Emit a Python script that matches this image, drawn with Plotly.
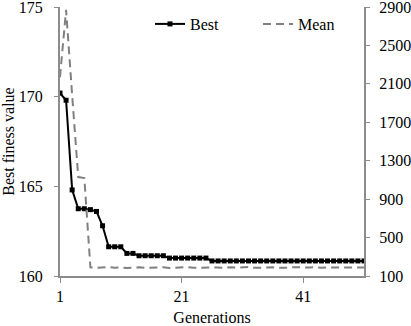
import plotly.graph_objects as go

generations = list(range(1, 52))
best = [170.2, 169.8, 164.8, 163.75, 163.75, 163.7, 163.6, 162.8, 161.63, 161.63,
        161.63, 161.26, 161.26, 161.13, 161.13, 161.13, 161.13, 161.13,
        161.0, 161.0, 161.0, 161.0, 161.0, 161.0, 161.0] + [160.84] * 26
mean = [2170, 2870, 1980, 1130, 1120,
        190, 185, 188, 192, 186, 190, 183, 187, 190, 185,
        188, 186, 191, 184, 189, 187, 192, 185, 188, 190,
        186, 189, 184, 191, 187, 188, 193, 185, 189, 186,
        190, 187, 185, 191, 188, 186, 189, 192, 185, 188,
        187, 190, 186, 189, 185, 188]
x_ticks = [1, 21, 41]

FONT = "Liberation Serif"
AXC = "#8c8c8c"
tf = dict(family=FONT, size=16, color="black")

fig = go.Figure()
fig.add_trace(go.Scatter(x=generations, y=best, name="Best", mode="lines+markers",
                         line=dict(color="black", width=2),
                         marker=dict(symbol="square", size=5, color="black")))
fig.add_trace(go.Scatter(x=generations, y=mean, name="Mean", mode="lines", yaxis="y2",
                         line=dict(color="#808080", width=2, dash="8px,5px")))

fig.update_layout(
    width=411, height=326,
    margin=dict(l=60, r=47, t=7, b=50, autoexpand=False),
    paper_bgcolor="white", plot_bgcolor="white",
    font=tf,
    showlegend=True,
    legend=dict(orientation="h", x=0.296, y=1.0, xanchor="left", yanchor="top",
                bgcolor="rgba(0,0,0,0)", entrywidth=63, entrywidthmode="pixels",
                font=tf, tracegroupgap=0),
    xaxis=dict(range=[1, 51], tickvals=x_ticks, ticktext=[str(v) for v in x_ticks],
               showgrid=False, zeroline=False, showline=True, linecolor=AXC, linewidth=2,
               ticks="outside", ticklen=5, tickcolor=AXC, tickfont=tf, automargin=False,
               title=dict(text="Generations", standoff=10, font=tf)),
    yaxis=dict(range=[160, 175], tick0=160, dtick=5, showgrid=False, zeroline=False,
               showline=True, linecolor=AXC, linewidth=2, ticks="outside", ticklen=4,
               tickcolor=AXC, ticklabelstandoff=8, tickfont=tf, automargin=False,
               ticklabeloverflow="allow",
               title=dict(text="Best finess value", standoff=6, font=tf)),
    yaxis2=dict(range=[100, 2900], tick0=100, dtick=400, overlaying="y", side="right",
                showgrid=False, zeroline=False, showline=True, linecolor=AXC, linewidth=2,
                ticks="outside", ticklen=4, tickcolor=AXC, ticklabelstandoff=6, tickfont=tf,
                automargin=False, ticklabeloverflow="allow"),
)

fig.write_html("out.html", config={"displayModeBar": False},
               post_script="document.body.style.margin='0';")
